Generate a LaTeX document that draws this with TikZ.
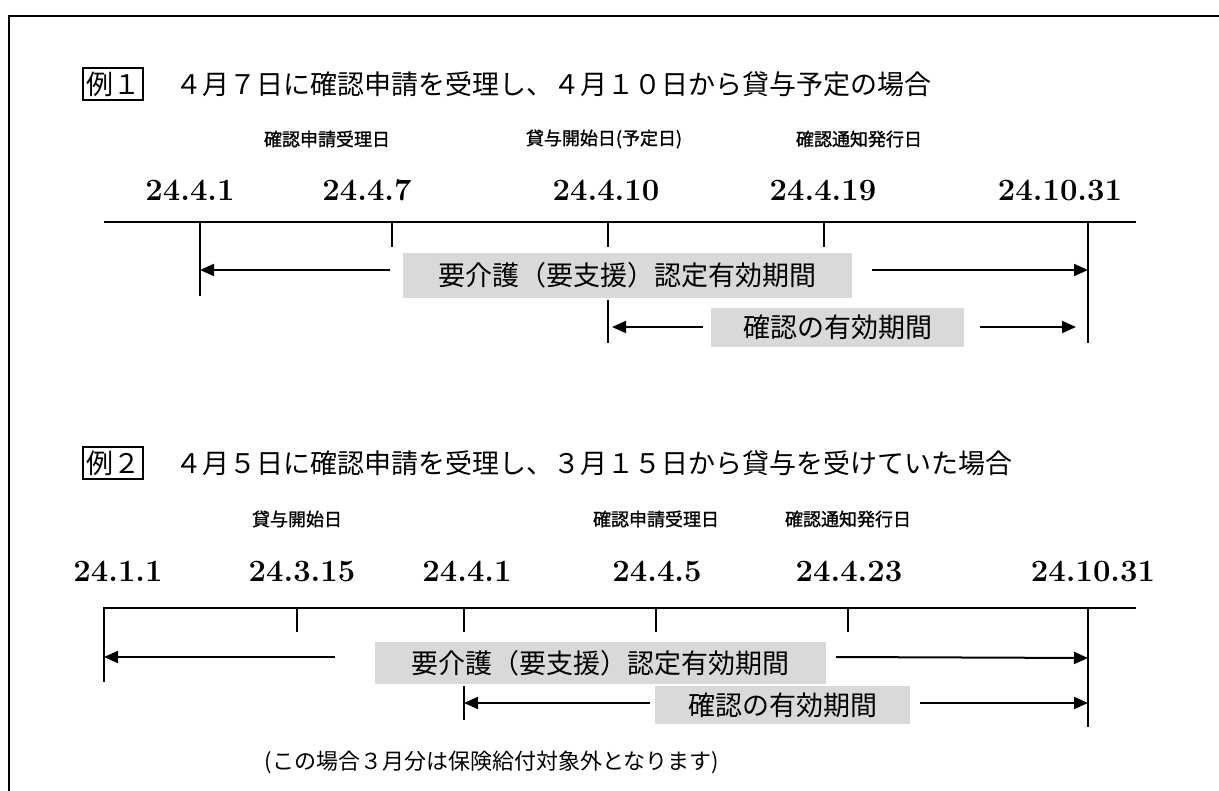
\documentclass[tikz,border=0pt]{standalone}
\usepackage{fontspec}
\newfontfamily\jp{Noto Sans CJK JP}
\newfontfamily\jpb[FakeBold=1.2]{Noto Sans CJK JP}
\usetikzlibrary{arrows.meta}
\definecolor{boxgray}{RGB}{217,217,217}
\tikzset{
 frame/.style={line width=2.5pt},
 axis/.style={line width=2pt},
 tickline/.style={line width=1.5pt},
 arr/.style={line width=2pt,-{Triangle[length=14pt,width=12pt]}},
 graybox/.style={fill=boxgray, inner sep=0pt, font=\jp\fontsize{27}{30}\selectfont},
 datelbl/.style={font=\fontsize{31}{34}\selectfont\bfseries, inner sep=0pt},
 lab/.style={font=\jpb\fontsize{18}{21}\selectfont, inner sep=0pt},
 titletext/.style={font=\jp\fontsize{27}{30}\selectfont, inner sep=0pt, anchor=west},
 exbox/.style={draw, line width=1.5pt, minimum width=60pt, minimum height=32pt, inner sep=0pt, font=\jp\fontsize{27}{30}\selectfont},
 note/.style={font=\jp\fontsize{22}{26}\selectfont, inner sep=0pt},
}
\begin{document}
\begin{tikzpicture}[x=1pt,y=-1pt]
\useasboundingbox (0,0) rectangle (1219,791);
% frame
\draw[frame] (9,791) -- (9,16) -- (1220,16);

% ===== Example 1 =====
\node[exbox] (ex1) at (113,84) {例１};
\node[titletext] (ti1) at (175,84) {４月７日に確認申請を受理し、４月１０日から貸与予定の場合};
\node[lab] (l12) at (327,139) {確認申請受理日};
\node[lab] (l13) at (604,139) {貸与開始日(予定日)};
\node[lab] (l14) at (859,139) {確認通知発行日};
\node[datelbl] (d11) at (190,190) {24.4.1};
\node[datelbl] (d12) at (367,190) {24.4.7};
\node[datelbl] (d13) at (606,190) {24.4.10};
\node[datelbl] (d14) at (823,190) {24.4.19};
\node[datelbl] (d15) at (1060,190) {24.10.31};
\coordinate (ax1s) at (104,222);
\coordinate (ax1e) at (1136,222);
\draw[axis] (ax1s) -- (ax1e);
\coordinate (t11) at (200,222);
\coordinate (t12) at (392,222);
\coordinate (t13) at (608,222);
\coordinate (t14) at (824,222);
\coordinate (t15) at (1088,222);
\coordinate (b11) at (200,296);
\coordinate (b12) at (392,247);
\coordinate (b13) at (608,247);
\coordinate (b14) at (824,247);
\coordinate (b15) at (1088,343);
\coordinate (u13) at (608,300);
\coordinate (v13) at (608,343);
\draw[tickline] (t11) -- (b11);
\draw[tickline] (t12) -- (b12);
\draw[tickline] (t13) -- (b13);
\draw[tickline] (t14) -- (b14);
\draw[tickline] (t15) -- (b15);
\draw[tickline] (u13) -- (v13);
\node[graybox, minimum width=449pt, minimum height=45pt] (g11) at (627.5,275.5) {要介護（要支援）認定有効期間};
\node[graybox, minimum width=253pt, minimum height=39pt] (g12) at (837.5,327.5) {確認の有効期間};
\coordinate (a11s) at (390,270);
\coordinate (a11e) at (200,270);
\coordinate (a12s) at (872,270);
\coordinate (a12e) at (1088,270);
\coordinate (a13s) at (703,327);
\coordinate (a13e) at (612,327);
\coordinate (a14s) at (980,327);
\coordinate (a14e) at (1076,327);
\draw[arr] (a11s) -- (a11e);
\draw[arr] (a12s) -- (a12e);
\draw[arr] (a13s) -- (a13e);
\draw[arr] (a14s) -- (a14e);

% ===== Example 2 =====
\node[exbox] (ex2) at (113,463) {例２};
\node[titletext] (ti2) at (175,463) {４月５日に確認申請を受理し、３月１５日から貸与を受けていた場合};
\node[lab] (l22) at (297,519) {貸与開始日};
\node[lab] (l24) at (656,519) {確認申請受理日};
\node[lab] (l25) at (848,519) {確認通知発行日};
\node[datelbl] (d21) at (118,571) {24.1.1};
\node[datelbl] (d22) at (302,571) {24.3.15};
\node[datelbl] (d23) at (467,571) {24.4.1};
\node[datelbl] (d24) at (657,571) {24.4.5};
\node[datelbl] (d25) at (849,571) {24.4.23};
\node[datelbl] (d26) at (1093,571) {24.10.31};
\coordinate (ax2s) at (104,608);
\coordinate (ax2e) at (1136,608);
\coordinate (t21) at (104,608);
\coordinate (t22) at (297,608);
\coordinate (t23) at (464,608);
\coordinate (t24) at (656,608);
\coordinate (t25) at (848,608);
\coordinate (t26) at (1088,608);
\coordinate (b21) at (104,682);
\coordinate (b22) at (297,632);
\coordinate (b23) at (464,632);
\coordinate (b24) at (656,632);
\coordinate (b25) at (848,632);
\coordinate (b26) at (1088,727);
\coordinate (u23) at (464,686);
\coordinate (v23) at (464,720);
\draw[axis] (b21) -- (ax2s) -- (ax2e);
\draw[tickline] (t22) -- (b22);
\draw[tickline] (t23) -- (b23);
\draw[tickline] (t24) -- (b24);
\draw[tickline] (t25) -- (b25);
\draw[tickline] (t26) -- (b26);
\draw[tickline] (u23) -- (v23);
\node[graybox, minimum width=451pt, minimum height=42pt] (g21) at (600.5,663) {要介護（要支援）認定有効期間};
\node[graybox, minimum width=255pt, minimum height=38pt] (g22) at (782.5,705) {確認の有効期間};
\coordinate (a21s) at (335,657);
\coordinate (a21e) at (104,657);
\coordinate (a22s) at (836,657);
\coordinate (a22e) at (1088,658);
\coordinate (a23s) at (650,703);
\coordinate (a23e) at (464,703);
\coordinate (a24s) at (920,703);
\coordinate (a24e) at (1088,703);
\draw[arr] (a21s) -- (a21e);
\draw[arr] (a22s) -- (a22e);
\draw[arr] (a23s) -- (a23e);
\draw[arr] (a24s) -- (a24e);
\node[note] (n2) at (492,762) {(この場合３月分は保険給付対象外となります)};
\end{tikzpicture}
\end{document}
